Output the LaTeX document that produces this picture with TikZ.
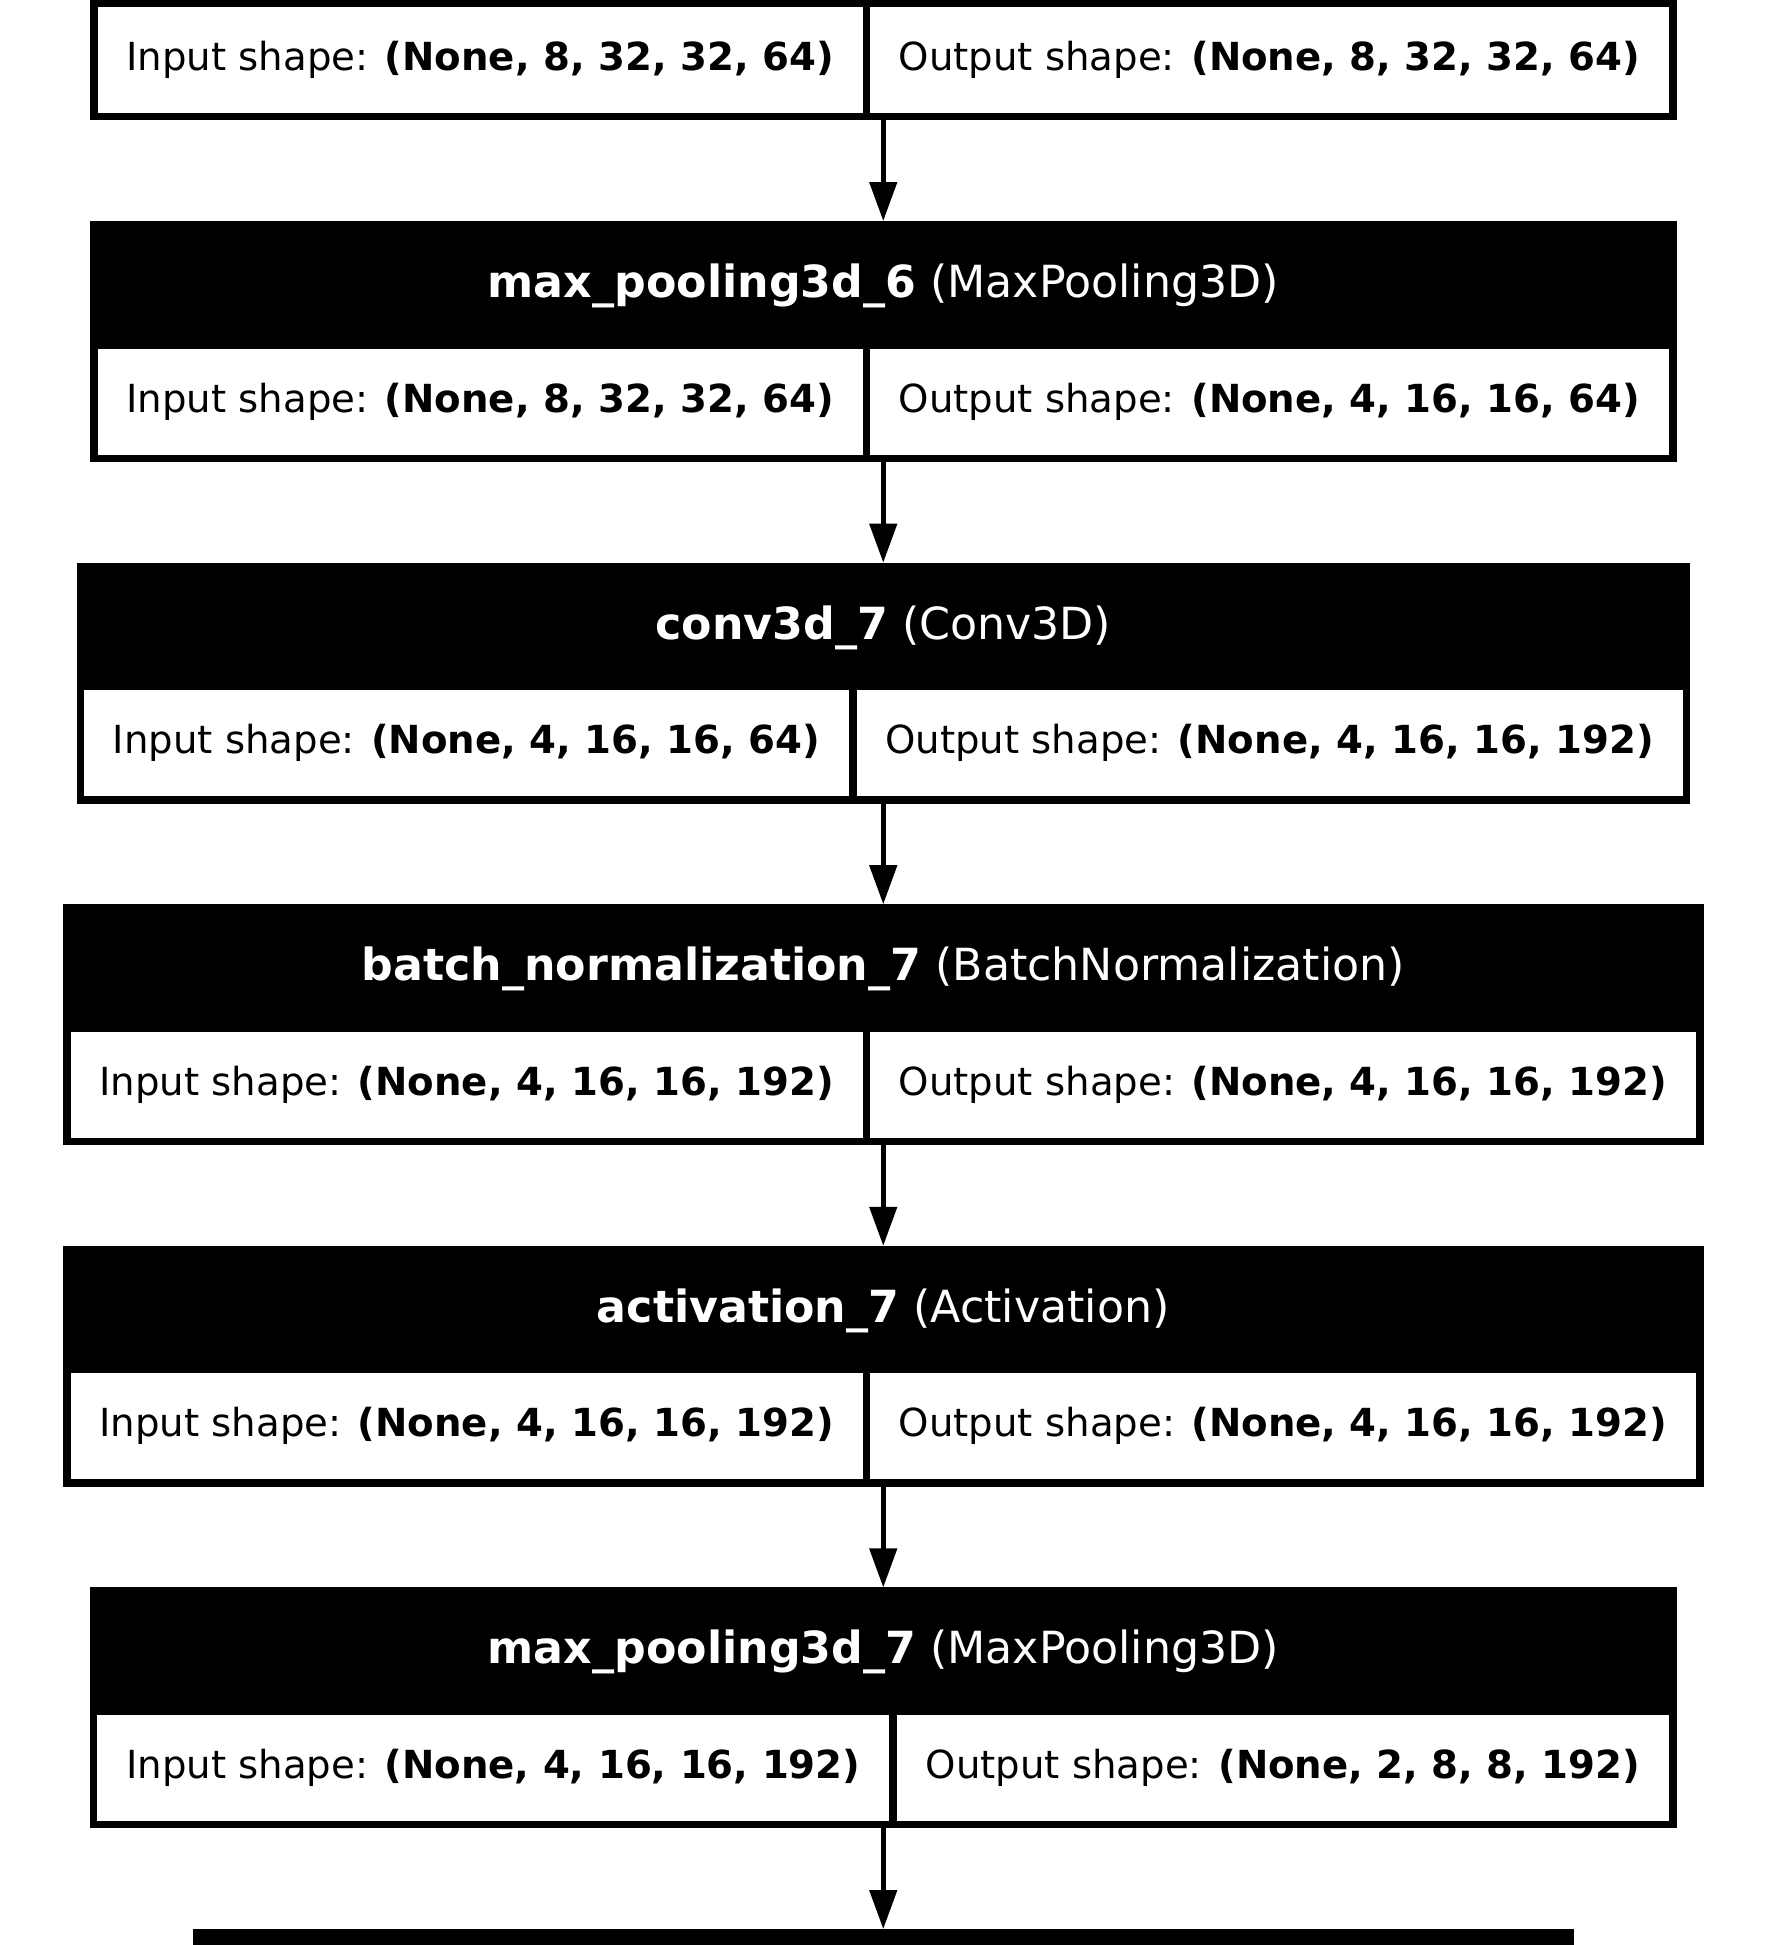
\documentclass[tikz,border=0pt]{standalone}
\usepackage{fontspec}
\setmainfont{DejaVu Sans}
\usetikzlibrary{arrows.meta}

\begin{document}
\begin{tikzpicture}[x=1cm, y=-1cm,
    layerbox/.style={fill=black, inner sep=0pt, outer sep=0pt, anchor=north, minimum height=2.41cm},
    headtext/.style={text=white, inner sep=0pt, anchor=base, font=\fontsize{12.6}{15}\selectfont},
    shapecell/.style={fill=white, inner sep=0pt, outer sep=0pt, minimum height=1.06cm, font=\fontsize{11}{13}\selectfont},
    flow/.style={-{Triangle[length=3.9mm, width=2.7mm]}, line width=0.047cm}]

    \useasboundingbox (0,0) rectangle (17.67,19.45);
    \clip (0,0) rectangle (17.67,19.45);

    % these are the layer boxes
    \node[layerbox, minimum width=15.865cm] (prev) at (8.8325,-1.206) {};
    \node[shapecell, minimum width=7.65cm, anchor=north east] (previn) at (8.625,0.069) {Input shape: \textbf{(None, 8, 32, 32, 64)}};
    \node[shapecell, minimum width=7.99cm, anchor=north west] (prevout) at (8.70,0.069) {Output shape: \textbf{(None, 8, 32, 32, 64)}};

    \node[layerbox, minimum width=15.865cm] (pool6) at (8.8325,2.21) {};
    \node[headtext] (pool6name) at (8.8325,2.975) {\textbf{max\_pooling3d\_6} (MaxPooling3D)};
    \node[shapecell, minimum width=7.65cm, anchor=north east] (pool6in) at (8.625,3.485) {Input shape: \textbf{(None, 8, 32, 32, 64)}};
    \node[shapecell, minimum width=7.99cm, anchor=north west] (pool6out) at (8.70,3.485) {Output shape: \textbf{(None, 4, 16, 16, 64)}};

    \node[layerbox, minimum width=16.135cm] (conv7) at (8.8325,5.626) {};
    \node[headtext] (conv7name) at (8.8325,6.391) {\textbf{conv3d\_7} (Conv3D)};
    \node[shapecell, minimum width=7.65cm, anchor=north east] (conv7in) at (8.49,6.901) {Input shape: \textbf{(None, 4, 16, 16, 64)}};
    \node[shapecell, minimum width=8.26cm, anchor=north west] (conv7out) at (8.565,6.901) {Output shape: \textbf{(None, 4, 16, 16, 192)}};

    \node[layerbox, minimum width=16.405cm] (bn7) at (8.8325,9.042) {};
    \node[headtext] (bn7name) at (8.8325,9.807) {\textbf{batch\_normalization\_7} (BatchNormalization)};
    \node[shapecell, minimum width=7.92cm, anchor=north east] (bn7in) at (8.625,10.317) {Input shape: \textbf{(None, 4, 16, 16, 192)}};
    \node[shapecell, minimum width=8.26cm, anchor=north west] (bn7out) at (8.70,10.317) {Output shape: \textbf{(None, 4, 16, 16, 192)}};

    \node[layerbox, minimum width=16.405cm] (act7) at (8.8325,12.458) {};
    \node[headtext] (act7name) at (8.8325,13.223) {\textbf{activation\_7} (Activation)};
    \node[shapecell, minimum width=7.92cm, anchor=north east] (act7in) at (8.625,13.733) {Input shape: \textbf{(None, 4, 16, 16, 192)}};
    \node[shapecell, minimum width=8.26cm, anchor=north west] (act7out) at (8.70,13.733) {Output shape: \textbf{(None, 4, 16, 16, 192)}};

    \node[layerbox, minimum width=15.87cm] (pool7) at (8.8325,15.874) {};
    \node[headtext] (pool7name) at (8.8325,16.639) {\textbf{max\_pooling3d\_7} (MaxPooling3D)};
    \node[shapecell, minimum width=7.92cm, anchor=north east] (pool7in) at (8.8925,17.149) {Input shape: \textbf{(None, 4, 16, 16, 192)}};
    \node[shapecell, minimum width=7.725cm, anchor=north west] (pool7out) at (8.9675,17.149) {Output shape: \textbf{(None, 2, 8, 8, 192)}};

    \node[layerbox, minimum width=13.81cm] (next) at (8.8325,19.29) {};

    % these are the connections
    \draw[flow] (prev.south) -- (pool6.north);
    \draw[flow] (pool6.south) -- (conv7.north);
    \draw[flow] (conv7.south) -- (bn7.north);
    \draw[flow] (bn7.south) -- (act7.north);
    \draw[flow] (act7.south) -- (pool7.north);
    \draw[flow] (pool7.south) -- (next.north);

\end{tikzpicture}
\end{document}
